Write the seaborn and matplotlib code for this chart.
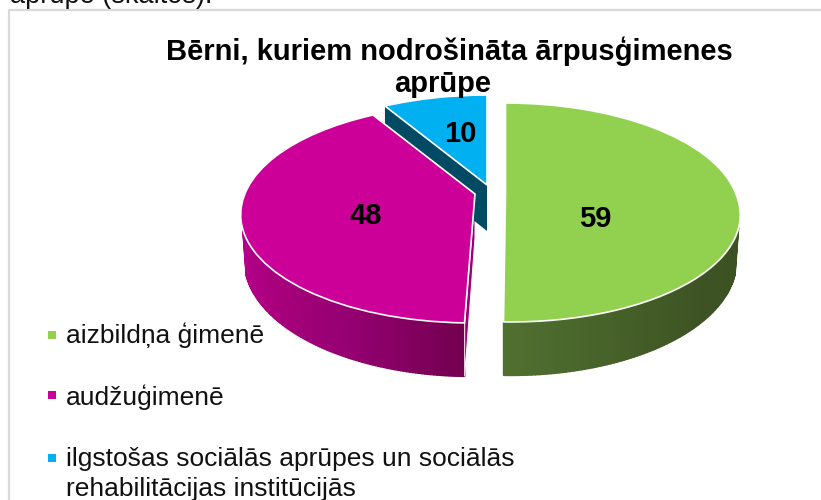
import numpy as np
import matplotlib
matplotlib.use("Agg")
import matplotlib.pyplot as plt
from matplotlib.transforms import Transform
import seaborn as sns

categories = ["aizbildņa ģimenē", "audžuģimenē",
              "ilgstošas sociālās aprūpes un sociālās\nrehabilitācijas institūcijās"]
values = [59, 48, 10]
top_colors = ["#92d050", "#cc0099", "#00b0f0"]
title_lines = ["Bērni, kuriem nodrošināta ārpusģimenes", "aprūpe"]

sns.set_theme(style="white")
plt.rcParams["font.family"] = ["Liberation Sans", "DejaVu Sans"]

SX, SY, K = 230, 106, 0.178


# tilted view of the unit circle, the back of the pie looks smaller
class Tilt(Transform):
    input_dims = 2
    output_dims = 2

    def __init__(self, cx, cy, skew=0):
        super().__init__()
        self.cx = cx
        self.cy = cy
        self.skew = skew

    def transform_non_affine(self, xy):
        xy = np.asarray(xy, dtype=float)
        w = 1 + K * xy[:, 1]
        x = self.cx + SX * xy[:, 0] / w + self.skew * np.minimum(xy[:, 1], 0) * -1
        return np.column_stack([x, self.cy - SY * xy[:, 1] / w])


def rim(theta, cx, cy, skew=0):
    t = np.radians(theta)
    return Tilt(cx, cy, skew).transform_non_affine(np.column_stack([np.cos(t), np.sin(t)]))


def drop(theta, cx, cy, skew=0, depth=44):
    # same rim, one disc thickness lower
    t = np.radians(theta)
    p = rim(theta, cx, cy, skew)
    p[:, 0] = cx + (p[:, 0] - cx) * 0.985
    p[:, 1] = p[:, 1] + depth / (1 + K * np.sin(t))
    return p


def wall(theta, ramp, cx, cy, skew):
    for i in range(len(theta) - 1):
        a, b = theta[i:i + 2]
        pts = np.vstack([rim(np.array([a, b]), cx, cy, skew),
                         drop(np.array([b, a]), cx, cy, skew)])
        ax.fill(pts[:, 0], pts[:, 1], color=ramp[i], lw=1, zorder=2)


fig = plt.figure(figsize=(8.21, 5), dpi=100)
ax = fig.add_axes([0, 0, 1, 1])
wedges, _ = ax.pie(values, startangle=90, counterclock=False, colors=top_colors,
                   wedgeprops={"edgecolor": "white", "linewidth": 1.2})
ax.set_aspect("auto")
ax.set_xlim(0, 821)
ax.set_ylim(500, 0)
ax.axis("off")

centers = [(505.5, 193, 5.5), (475, 194, -3), (487, 185, 0)]
green, magenta, blue = wedges

# outer walls, as thin strips so the shading runs along them
th = np.linspace(green.theta1, -18, 90)
wall(th, sns.blend_palette(["#507030", "#466029", "#3d5323", "#3c5222"], len(th)), *centers[0])
th = np.linspace(-91.5, -162, 110)
wall(th, sns.blend_palette(["#73004f", "#930070", "#a8007c", "#b4008a"], len(th)), *centers[1])

# cut faces that can be seen
cx, cy, skew = centers[1]
edge = rim(np.array([-91.5]), cx, cy, skew)[0]
edge_low = drop(np.array([-91.5]), cx, cy, skew)[0]
ax.fill([cx, cx, edge[0], edge[0]], [cy, cy + 44, edge_low[1], edge[1]],
        color="#9a0078", ec="white", lw=0.7, zorder=2)

cx, cy, skew = centers[2]
edge = rim(np.array([blue.theta2]), cx, cy)[0]
ax.fill([cx, edge[0], edge[0], cx], [cy, edge[1], edge[1] + 44, cy + 46],
        color="#004a63", lw=0, zorder=2)

for w, c, z in zip(wedges, centers, [3, 4, 3]):
    w.set_transform(Tilt(*c) + ax.transData)
    w.set_zorder(z)

# chart border and the line of body text cut off above it
ax.plot([9, 9, 821], [500, 10, 10], color="#d9d9d9", lw=1.6, zorder=1)
ax.text(10, 3, "aprūpe (skaitos).", fontsize=19.5, color="#111111", va="baseline")

for line, x, y in zip(title_lines, [449, 443], [51, 84]):
    ax.text(x, y, line, fontsize=21, fontweight="bold", color="black",
            ha="center", va="center", zorder=6)

for val, (x, y) in zip(values, [(595, 219), (366, 216), (460, 134)]):
    ax.text(x, y, str(val), fontsize=21, fontweight="bold", color="black",
            ha="center", va="center", zorder=6)

for lab, col, y, ty in zip(categories, top_colors, [335, 395, 458], [323, 384, 447]):
    ax.scatter([52], [y], marker="s", s=26, color=col, linewidths=0, zorder=6)
    ax.text(66, ty, lab, fontsize=19, color="#111111", va="top", linespacing=1.3, zorder=6)

fig.savefig("out.png", dpi=100)
